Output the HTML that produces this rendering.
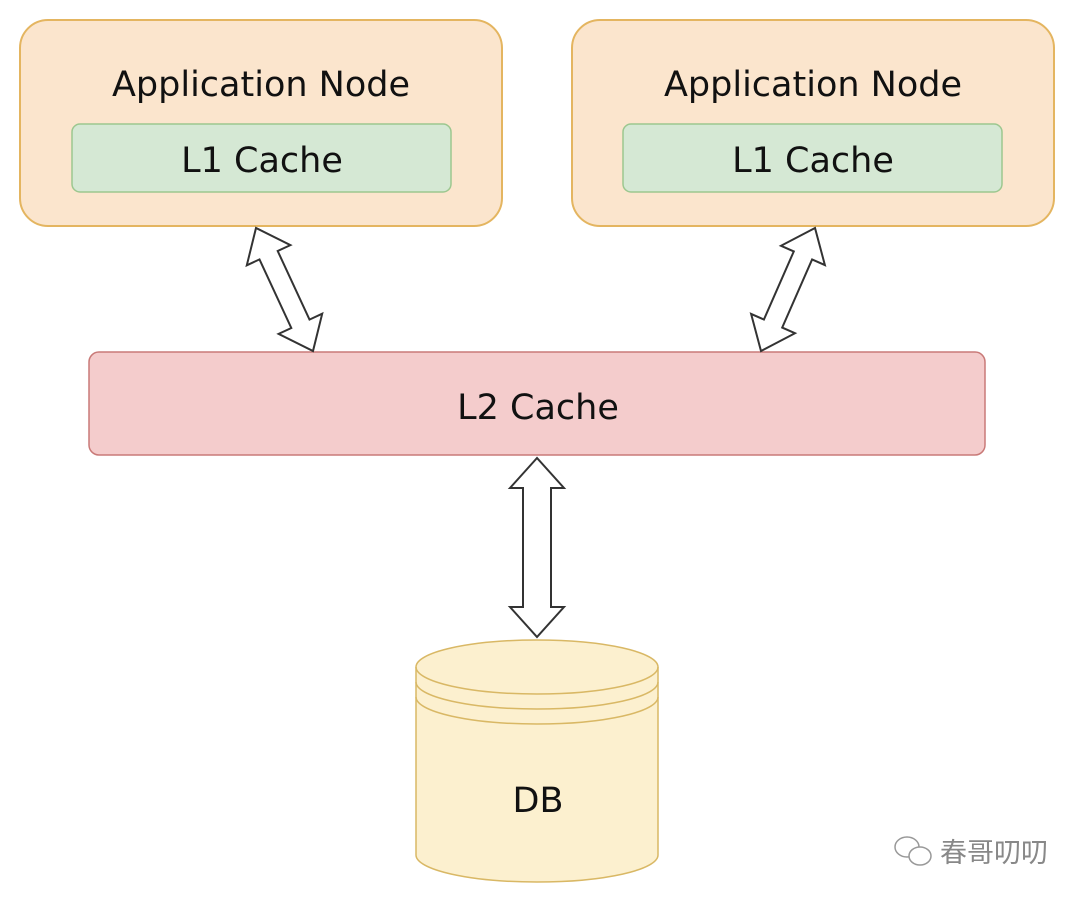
<!DOCTYPE html>
<html><head><meta charset="utf-8"><style>
body{margin:0;background:#fff;width:1080px;height:901px;overflow:hidden}
svg{display:block}
text{font-family:"DejaVu Sans","Liberation Sans",sans-serif;fill:#111}
</style></head><body>
<svg width="1080" height="901" viewBox="0 0 1080 901" xmlns="http://www.w3.org/2000/svg">
<rect x="20" y="20" width="482" height="206" rx="28" fill="#fbe5cd" stroke="#e4b560" stroke-width="2"/>
<text x="261" y="96" font-size="35" text-anchor="middle">Application Node</text>
<rect x="72" y="124" width="379" height="68" rx="8" fill="#d5e8d4" stroke="#9cc78f" stroke-width="1.5"/>
<text x="262" y="172" font-size="35" text-anchor="middle">L1 Cache</text>
<rect x="572" y="20" width="482" height="206" rx="28" fill="#fbe5cd" stroke="#e4b560" stroke-width="2"/>
<text x="813" y="96" font-size="35" text-anchor="middle">Application Node</text>
<rect x="623" y="124" width="379" height="68" rx="8" fill="#d5e8d4" stroke="#9cc78f" stroke-width="1.5"/>
<text x="813" y="172" font-size="35" text-anchor="middle">L1 Cache</text>
<rect x="89" y="352" width="896" height="103" rx="10" fill="#f4cccc" stroke="#c97a78" stroke-width="1.5"/>
<text x="538" y="419" font-size="35" text-anchor="middle">L2 Cache</text>
<path d="M416,667 A121,27 0 0 1 658,667 L658,855 A121,27 0 0 1 416,855 Z" fill="#fcf0cf" stroke="#d9b865" stroke-width="1.5"/>
<path d="M416,667 A121,27 0 0 0 658,667 M416,682 A121,27 0 0 0 658,682 M416,697 A121,27 0 0 0 658,697" fill="none" stroke="#d9b865" stroke-width="1.5"/>
<text x="538" y="812" font-size="35" text-anchor="middle">DB</text>
<g id="arrows" fill="#fff" stroke="#333" stroke-width="2" stroke-linejoin="miter"></g>
<text x="940" y="862" font-size="27" style="fill:#888;font-family:'Liberation Sans','Noto Sans CJK SC',sans-serif">春哥叨叨</text>
<g fill="none" stroke="#999" stroke-width="1.5">
<ellipse cx="907" cy="847" rx="12" ry="10"/>
<ellipse cx="920" cy="856" rx="11" ry="9" fill="#fff"/>
</g>
</svg>
<script>
function arrow(ax,ay,bx,by,sw,hw,hl){
 var dx=bx-ax,dy=by-ay,L=Math.hypot(dx,dy),ux=dx/L,uy=dy/L,px=-uy,py=ux;
 function P(t,s){return (ax+ux*t+px*s).toFixed(1)+","+(ay+uy*t+py*s).toFixed(1)}
 var pts=[P(0,0),P(hl,hw),P(hl,sw),P(L-hl,sw),P(L-hl,hw),P(L,0),P(L-hl,-hw),P(L-hl,-sw),P(hl,-sw),P(hl,-hw)];
 var e=document.createElementNS("http://www.w3.org/2000/svg","polygon");
 e.setAttribute("points",pts.join(" "));document.getElementById("arrows").appendChild(e);
}
arrow(256,228,313,351,10,24,30);
arrow(815,228,761,351,10,24,30);
arrow(537,458,537,637,14,27,30);
</script>
</body></html>
